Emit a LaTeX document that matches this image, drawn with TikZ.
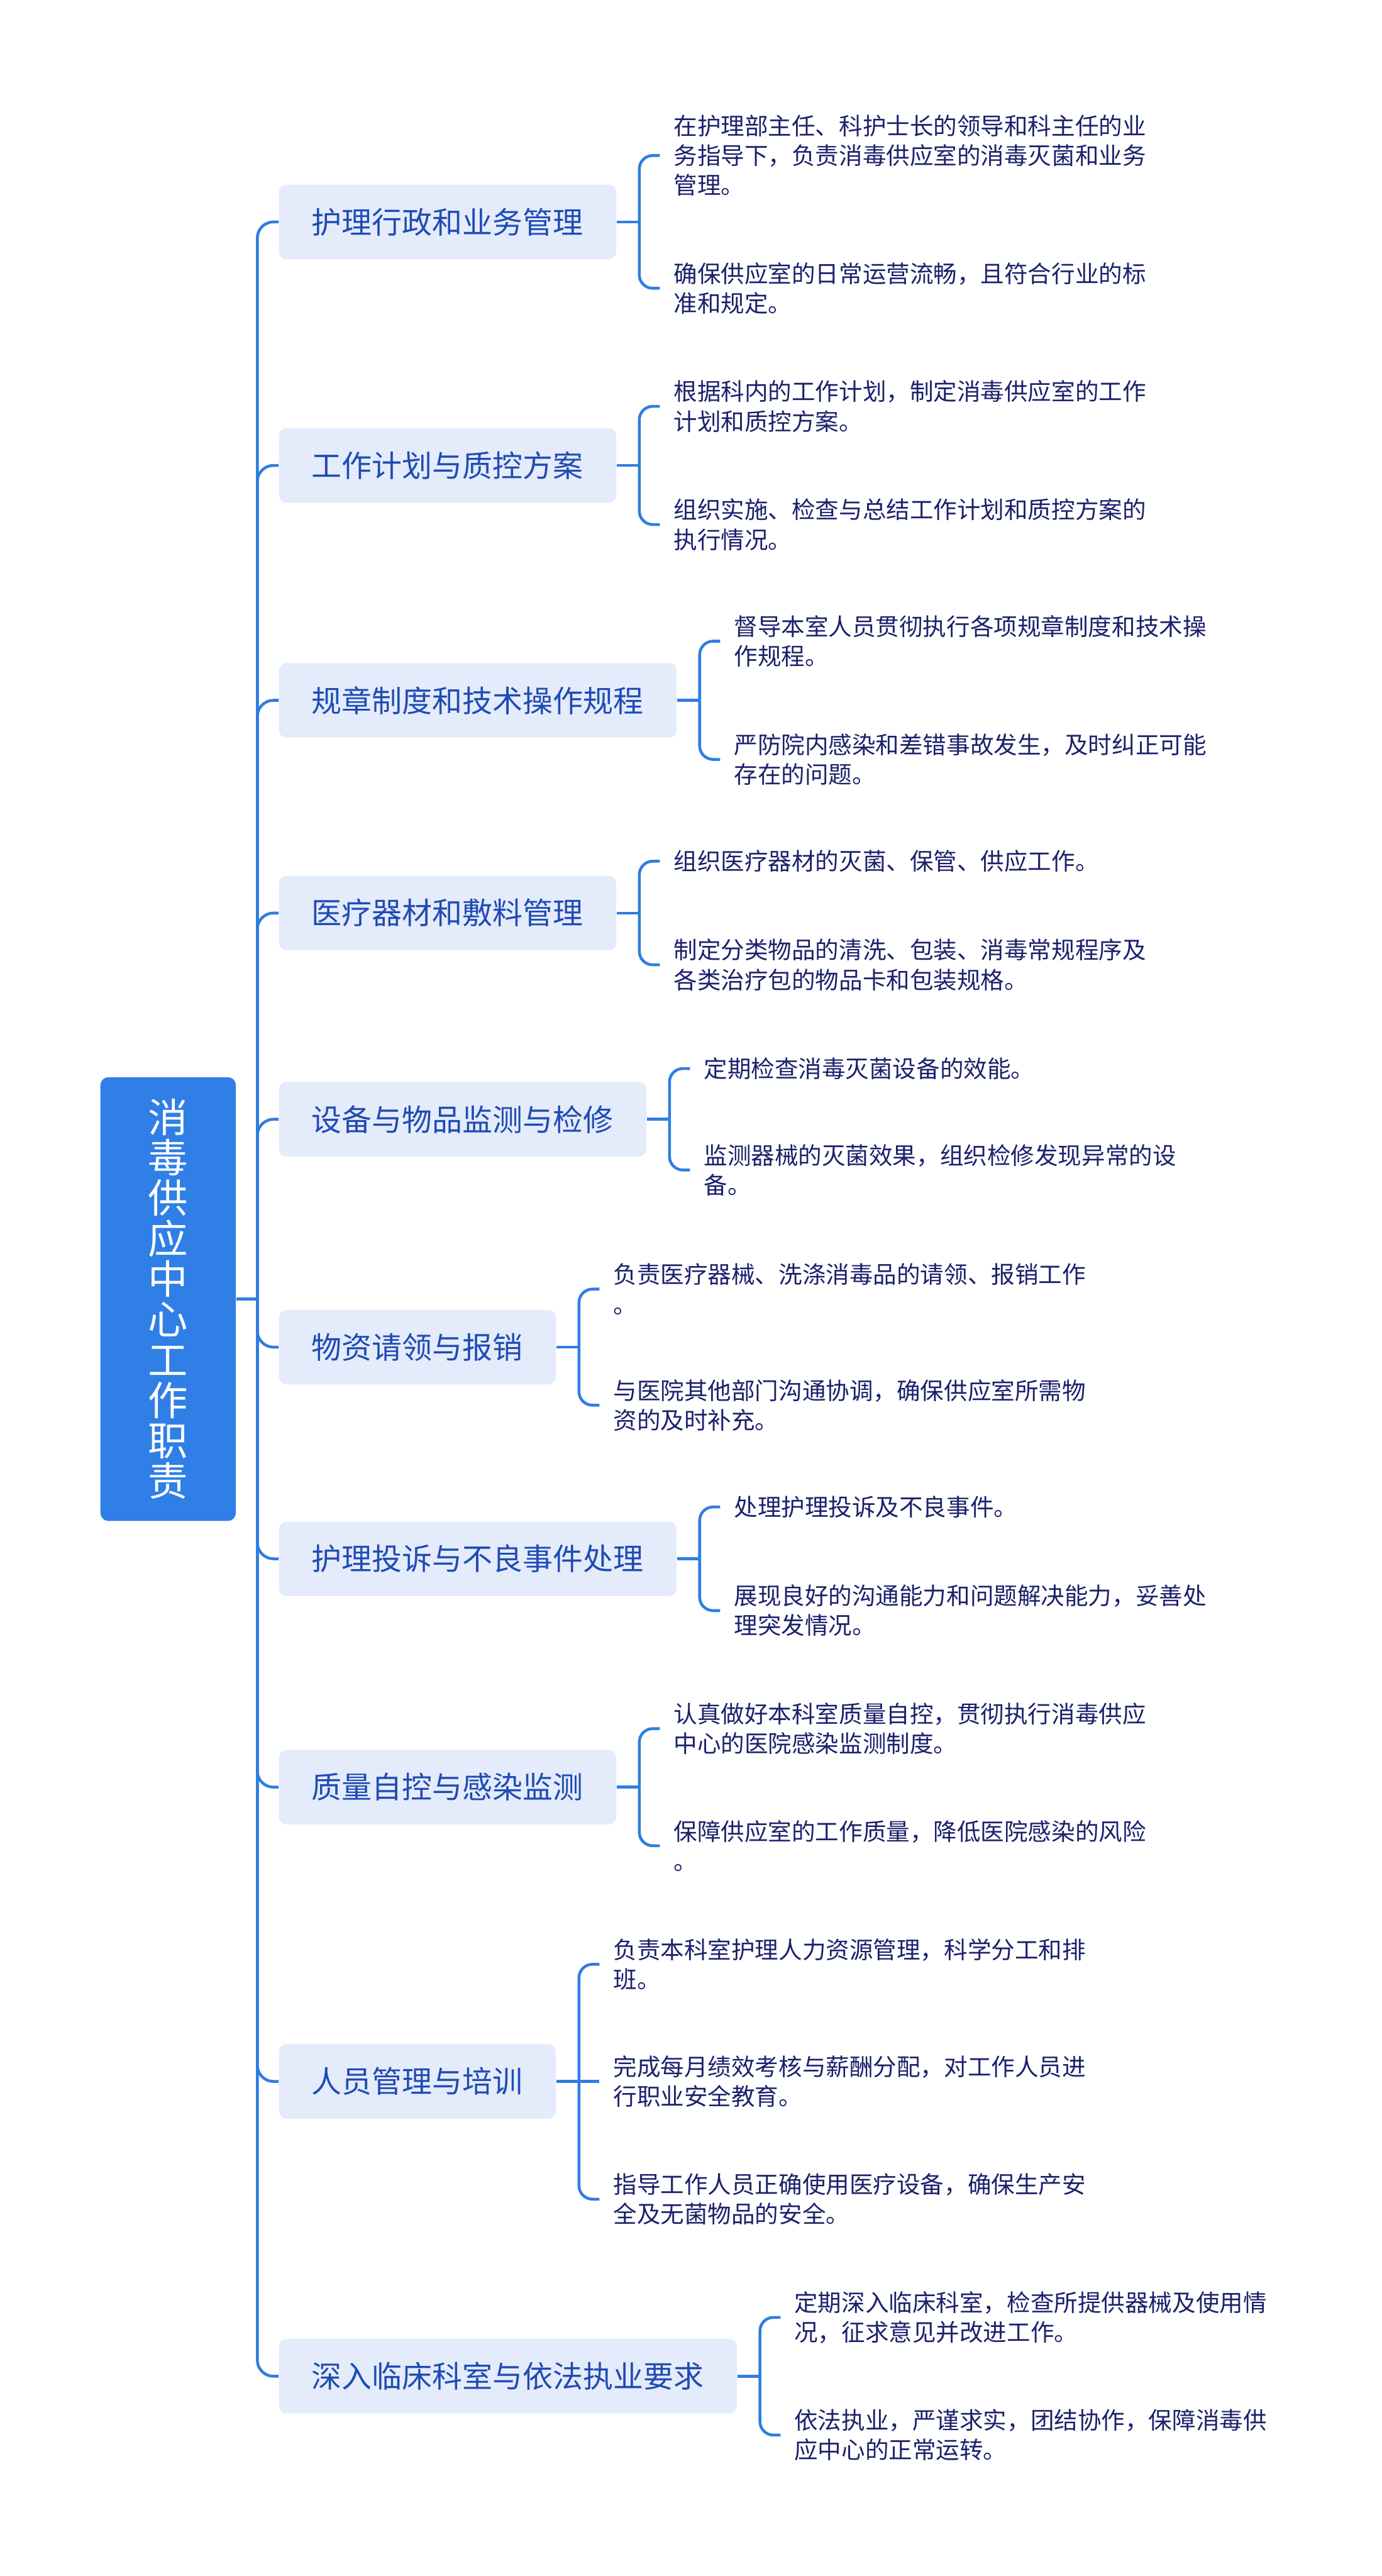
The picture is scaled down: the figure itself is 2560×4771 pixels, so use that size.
\documentclass[tikz,border=0pt]{standalone}
\usepackage{fontspec}
\newfontfamily\cjk{Noto Sans CJK SC}
\usepackage{tikz}
\usetikzlibrary{positioning,calc}
\definecolor{mmblue}{HTML}{2F7FE6}
\definecolor{mmline}{HTML}{2F7DE1}
\definecolor{mmpale}{HTML}{E4EBFB}
\definecolor{mmtext}{HTML}{1F4CB3}
\definecolor{mmink}{HTML}{1B216B}

\begin{document}
\begin{tikzpicture}[
  x=0.1mm,y=-0.1mm,
  every node/.style={font=\cjk},
  topic/.style={rounded corners=1.5mm,fill=mmblue,text=white,align=center,
                minimum width=25.1mm,minimum height=82.2mm,
                font=\cjk\fontsize{21}{21.3}\selectfont},
  branch/.style={rounded corners=1.4mm,fill=mmpale,text=mmtext,anchor=west,
                 minimum height=13.8mm,inner xsep=6.1mm,
                 font=\cjk\fontsize{15.9}{19}\selectfont},
  leaf/.style={anchor=west,align=left,text=mmink,inner xsep=2.5mm,inner ysep=0pt,
               font=\cjk\fontsize{12.45}{15.65}\selectfont},
  link/.style={draw=mmline,line width=1.5pt},
  elbow/.style={link,rounded corners=3mm},
  brace/.style={link,rounded corners=2.5mm}
]
\useasboundingbox (0,0) rectangle (2560,4771);

\node[topic] (root) at (311.5,2406) {消\\毒\\供\\应\\中\\心\\工\\作\\职\\责};
\coordinate (hub) at ([xshift=3.9mm]root.east);

% main topics
\node[branch] (b1) at (516,411) {护理行政和业务管理};
\node[branch] (b2) at (516,862) {工作计划与质控方案};
\node[branch] (b3) at (516,1297) {规章制度和技术操作规程};
\node[branch] (b4) at (516,1691) {医疗器材和敷料管理};
\node[branch] (b5) at (516,2073) {设备与物品监测与检修};
\node[branch] (b6) at (516,2495) {物资请领与报销};
\node[branch] (b7) at (516,2887) {护理投诉与不良事件处理};
\node[branch] (b8) at (516,3310) {质量自控与感染监测};
\node[branch] (b9) at (516,3855) {人员管理与培训};
\node[branch] (b10) at (516,4401) {深入临床科室与依法执业要求};

\foreach \i in {1,...,10}
  \coordinate (k\i) at ([xshift=4.2mm]b\i.east);

% details
\node[leaf] (l1a) at ($(k1)+(38,-123)$) {在护理部主任、科护士长的领导和科主任的业\\务指导下，负责消毒供应室的消毒灭菌和业务\\管理。};
\node[leaf] (l1b) at ($(k1)+(38,123)$) {确保供应室的日常运营流畅，且符合行业的标\\准和规定。};
\node[leaf] (l2a) at ($(k2)+(38,-109.5)$) {根据科内的工作计划，制定消毒供应室的工作\\计划和质控方案。};
\node[leaf] (l2b) at ($(k2)+(38,109.5)$) {组织实施、检查与总结工作计划和质控方案的\\执行情况。};
\node[leaf] (l3a) at ($(k3)+(38,-109.5)$) {督导本室人员贯彻执行各项规章制度和技术操\\作规程。};
\node[leaf] (l3b) at ($(k3)+(38,109.5)$) {严防院内感染和差错事故发生，及时纠正可能\\存在的问题。};
\node[leaf] (l4a) at ($(k4)+(38,-96)$) {组织医疗器材的灭菌、保管、供应工作。};
\node[leaf] (l4b) at ($(k4)+(38,96)$) {制定分类物品的清洗、包装、消毒常规程序及\\各类治疗包的物品卡和包装规格。};
\node[leaf] (l5a) at ($(k5)+(38,-94)$) {定期检查消毒灭菌设备的效能。};
\node[leaf] (l5b) at ($(k5)+(38,94)$) {监测器械的灭菌效果，组织检修发现异常的设\\备。};
\node[leaf] (l6a) at ($(k6)+(38,-107.5)$) {负责医疗器械、洗涤消毒品的请领、报销工作\\。};
\node[leaf] (l6b) at ($(k6)+(38,107.5)$) {与医院其他部门沟通协调，确保供应室所需物\\资的及时补充。};
\node[leaf] (l7a) at ($(k7)+(38,-96)$) {处理护理投诉及不良事件。};
\node[leaf] (l7b) at ($(k7)+(38,96)$) {展现良好的沟通能力和问题解决能力，妥善处\\理突发情况。};
\node[leaf] (l8a) at ($(k8)+(38,-108.5)$) {认真做好本科室质量自控，贯彻执行消毒供应\\中心的医院感染监测制度。};
\node[leaf] (l8b) at ($(k8)+(38,108.5)$) {保障供应室的工作质量，降低医院感染的风险\\。};
\node[leaf] (l9a) at ($(k9)+(38,-217)$) {负责本科室护理人力资源管理，科学分工和排\\班。};
\node[leaf] (l9b) at ($(k9)+(38,0)$) {完成每月绩效考核与薪酬分配，对工作人员进\\行职业安全教育。};
\node[leaf] (l9c) at ($(k9)+(38,218)$) {指导工作人员正确使用医疗设备，确保生产安\\全及无菌物品的安全。};
\node[leaf] (l10a) at ($(k10)+(38,-109)$) {定期深入临床科室，检查所提供器械及使用情\\况，征求意见并改进工作。};
\node[leaf] (l10b) at ($(k10)+(38,109)$) {依法执业，严谨求实，团结协作，保障消毒供\\应中心的正常运转。};

% connectors
\draw[link] (root.east) -- (hub);
\foreach \i in {1,...,10} {
  \draw[elbow] (hub) |- (b\i.west);
  \draw[link] (b\i.east) -- (k\i);
}
\foreach \i/\l in {1/1a,1/1b,2/2a,2/2b,3/3a,3/3b,4/4a,4/4b,5/5a,5/5b,
                   6/6a,6/6b,7/7a,7/7b,8/8a,8/8b,9/9a,9/9c,10/10a,10/10b}
  \draw[brace] (k\i) |- (l\l.west);
\draw[link] (k9) -- (l9b.west);
\end{tikzpicture}
\end{document}
